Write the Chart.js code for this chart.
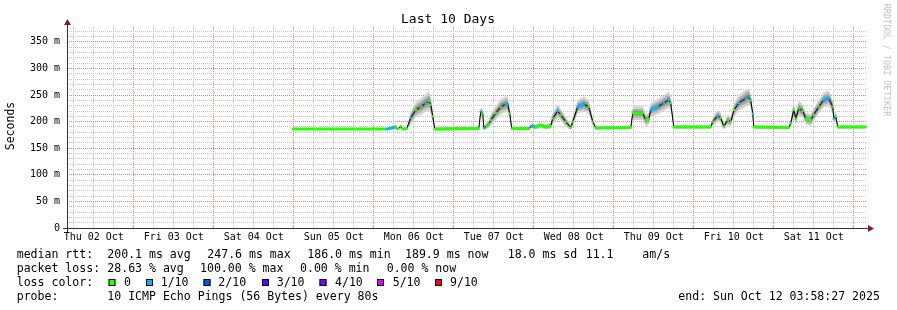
<!DOCTYPE html>
<html>
<head>
<meta charset="utf-8">
<script src="https://cdn.jsdelivr.net/npm/chart.js@4.4.1/dist/chart.umd.min.js"></script>
<style>
body { margin: 0; background: #fff; }
canvas { display: block; }
</style>
</head>
<body>
<canvas id="pingChart" width="897" height="310"></canvas>
<script>
// hours counted from Thu 02 Oct 00:00
const hours = [71.7, 99.9, 102.6, 103.2, 104.1, 104.7, 105.9, 107.1, 108.6, 110.1, 111.6, 112.5, 113.1, 113.7, 114.3,
    127.5, 128.1, 128.7, 129.0, 129.9, 130.5, 131.1, 132.6, 134.1, 135.6, 136.2, 136.8, 137.4,
    142.5, 143.4, 144.6, 146.1, 147.6, 149.1, 149.7, 151.2, 152.1, 153.6, 155.1, 155.7, 157.2, 159.0, 160.5, 161.7, 162.6,
    173.1, 173.7, 176.7, 177.6, 178.5, 179.1, 181.2, 183.0, 184.5, 185.1, 186.0,
    197.1, 197.7, 199.2, 200.1, 201.0, 202.2, 203.1, 204.1, 205.5, 207.6, 208.5, 209.1, 209.7, 210.0,
    220.5, 221.1, 222.0, 222.6, 223.5, 224.7, 225.6, 227.1, 228.0, 229.5, 231.0, 232.5, 233.7, 234.0, 234.6, 235.2, 243.6];
const medianRtt = [186, 186, 190, 186, 191, 186, 187, 207, 222, 228, 235, 239, 232, 210, 186,
    187, 219, 215, 188, 192, 195, 203, 216, 228, 233, 233, 215, 187,
    187, 192, 190, 193, 190, 192, 206, 220, 213, 200, 189, 200, 228, 233, 228, 200, 188,
    189, 216, 216, 203, 205, 222, 228, 235, 241, 235, 190,
    190, 200, 211, 207, 191, 203, 200, 222, 235, 244, 247, 240, 215, 190,
    189, 197, 222, 206, 225, 220, 206, 203, 213, 228, 241, 244, 228, 206, 210, 190, 190];
const lossTenths = [0, 1, 0, 0, 0, 0, 0, 1, 0, 0, 1, 0, 0, 0, 0,
    0, 1, 0, 1, 0, 0, 0, 0, 0, 1, 1, 0, 0,
    0, 1, 0, 0, 0, 0, 0, 1, 0, 0, 0, 0, 1, 1, 0, 0, 0,
    0, 0, 0, 0, 0, 1, 1, 1, 1, 0, 0,
    0, 0, 1, 0, 0, 0, 0, 0, 1, 1, 1, 0, 1, 0,
    0, 0, 0, 0, 0, 0, 0, 0, 0, 0, 1, 1, 0, 1, 0, 0, 0];
const smokeSpread = [1, 1, 3, 1, 3, 1, 2, 8, 9, 10, 10, 12, 10, 8, 2,
    2, 5, 5, 3, 4, 5, 7, 8, 9, 9, 9, 7, 2,
    2, 3, 3, 3, 3, 4, 7, 8, 7, 6, 3, 6, 8, 9, 8, 5, 2,
    2, 8, 8, 7, 7, 8, 9, 9, 10, 8, 2,
    2, 5, 7, 6, 4, 6, 6, 8, 9, 10, 10, 8, 6, 2,
    2, 5, 9, 8, 9, 8, 7, 7, 8, 8, 9, 9, 8, 6, 6, 2, 2];

const dayLabels = ['Thu 02 Oct', 'Fri 03 Oct', 'Sat 04 Oct', 'Sun 05 Oct', 'Mon 06 Oct',
    'Tue 07 Oct', 'Wed 08 Oct', 'Thu 09 Oct', 'Fri 10 Oct', 'Sat 11 Oct'];
const lossLabels = ['0', '1/10', '2/10', '3/10', '4/10', '5/10', '9/10'];
const lossColors = ['#26ff00', '#00b8ff', '#0059ff', '#5e00ff', '#7e00ff', '#dd00ff', '#ff0000'];

const xTicks = [];
for (let h = 6; h <= 240; h += 6) xTicks.push(h);
const yTicks = [];
for (let v = 0; v <= 370; v += 10) yTicks.push(v);

const mono = 'DejaVu Sans Mono';
const majorGrid = '#ef7d7d';
const minorGrid = '#c6c6c6';
const band = (k) => hours.map((h, i) => ({ x: h, y: medianRtt[i] + k * smokeSpread[i] }));
// smoke: pairs of upper/lower lines, upper one filled down to the lower one
const smokeSet = (k, color, idx) => [
    { data: band(k), borderWidth: 0, borderColor: 'rgba(0,0,0,0)', pointRadius: 0, fill: idx + 1, backgroundColor: color },
    { data: band(-k), borderWidth: 0, borderColor: 'rgba(0,0,0,0)', pointRadius: 0, fill: false }
];
const flat = c => Math.abs(c.p1.y - c.p0.y) < 0.5 * Math.abs(c.p1.x - c.p0.x);
const gridColor = (list, every) => c => (list[c.index] % every === 0 ? majorGrid : minorGrid);

const decor = {
    id: 'decor',
    afterDraw(chart) {
        const ctx = chart.ctx;
        const a = chart.chartArea;
        ctx.save();
        // axes + arrows
        ctx.strokeStyle = '#333';
        ctx.lineWidth = 1;
        ctx.beginPath();
        ctx.moveTo(a.left + 0.5, a.bottom + 4);
        ctx.lineTo(a.left + 0.5, a.top - 3);
        ctx.moveTo(a.left - 4, a.bottom + 0.5);
        ctx.lineTo(a.right + 2, a.bottom + 0.5);
        ctx.stroke();
        ctx.fillStyle = '#8b1a1a';
        ctx.beginPath();
        ctx.moveTo(a.left - 3, a.top - 2);
        ctx.lineTo(a.left + 4, a.top - 2);
        ctx.lineTo(a.left + 0.5, a.top - 8);
        ctx.fill();
        ctx.beginPath();
        ctx.moveTo(a.right + 1, a.bottom - 3);
        ctx.lineTo(a.right + 1, a.bottom + 4);
        ctx.lineTo(a.right + 7, a.bottom + 0.5);
        ctx.fill();

        ctx.fillStyle = '#000';
        ctx.textBaseline = 'middle';
        ctx.textAlign = 'center';
        ctx.font = '13px ' + mono;
        ctx.fillText('Last 10 Days', 448, 19.5);

        ctx.save();
        ctx.font = '11.5px ' + mono;
        ctx.translate(11, 126);
        ctx.rotate(-Math.PI / 2);
        ctx.fillText('Seconds', 0, 0);
        ctx.restore();

        ctx.save();
        ctx.fillStyle = '#c4c4c4';
        ctx.font = '8.5px ' + mono;
        ctx.translate(886, 60);
        ctx.rotate(Math.PI / 2);
        ctx.fillText('RRDTOOL / TOBI OETIKER', 0, 0);
        ctx.restore();

        // legend block
        ctx.textAlign = 'left';
        ctx.font = '11.55px ' + mono;
        const row = (y, items) => items.forEach(([x, t]) => ctx.fillText(t, x, y));
        row(254.5, [[16.7, 'median rtt:'], [107.3, '200.1 ms avg'], [207.3, '247.6 ms max'],
            [307.3, '186.0 ms min'], [405, '189.9 ms now'], [507.7, '18.0 ms sd'], [585.7, '11.1'], [642.3, 'am/s']]);
        row(268.5, [[16.7, 'packet loss:'], [107.3, '28.63 % avg'], [200, '100.00 % max'],
            [300, '0.00 % min'], [386.7, '0.00 % now']]);
        row(282.5, [[16.7, 'loss color:']]);
        const boxX = [108.5, 146, 203.5, 262, 319.5, 377, 435];
        const textX = [124, 160.7, 218.3, 276.7, 335, 392.7, 450];
        lossLabels.forEach((t, i) => {
            ctx.fillStyle = lossColors[i];
            ctx.fillRect(boxX[i], 279, 7, 7);
            ctx.strokeStyle = '#000';
            ctx.strokeRect(boxX[i] + 0.5, 279.5, 6, 6);
            ctx.fillStyle = '#000';
            ctx.fillText(t, textX[i], 282.5);
        });
        row(296.5, [[16.7, 'probe:'], [107.3, '10 ICMP Echo Pings (56 Bytes) every 80s'],
            [678.3, 'end: Sun Oct 12 03:58:27 2025']]);
        ctx.restore();
    }
};

new Chart(document.getElementById('pingChart').getContext('2d'), {
    type: 'line',
    data: {
        datasets: [
            {
                // loss-coloured median: flat stretches + a dot at each sample
                data: hours.map((h, i) => ({ x: h, y: medianRtt[i] })),
                borderWidth: 3, tension: 0, fill: false,
                borderCapStyle: 'butt', borderColor: lossColors[0],
                pointStyle: 'rect', pointRadius: 1.6, pointBorderWidth: 0,
                pointBackgroundColor: hours.map((h, i) => lossColors[lossTenths[i]]),
                segment: {
                    borderColor: c => flat(c) ? lossColors[lossTenths[c.p0DataIndex]] : 'rgba(0,0,0,0)'
                }
            },
            {
                data: hours.map((h, i) => ({ x: h, y: medianRtt[i] })),
                borderWidth: 1, borderColor: '#000', pointRadius: 0, fill: false
            },
            ...smokeSet(0.5, '#8a8a8a', 2),
            ...smokeSet(1, '#adadad', 4),
            ...smokeSet(1.6, '#d2d2d2', 6)
        ]
    },
    options: {
        responsive: false,
        animation: false,
        events: [],
        layout: { padding: { left: 0, top: 27, right: 30, bottom: 62 } },
        plugins: {
            legend: { display: false },
            tooltip: { enabled: false },
            filler: { propagate: false }
        },
        scales: {
            x: {
                type: 'linear',
                min: 3.975,
                max: 243.975,
                afterBuildTicks: s => { s.ticks = xTicks.map(v => ({ value: v })); },
                afterFit: s => { s.height = 20; },
                ticks: {
                    autoSkip: false, maxRotation: 0, padding: 3, color: '#000',
                    font: { family: mono, size: 10 },
                    callback: v => (v % 24 === 12 ? dayLabels[(v - 12) / 24] : '')
                },
                grid: { drawTicks: false, color: gridColor(xTicks, 24) },
                border: { display: false, dash: [1, 1] }
            },
            y: {
                min: 0,
                max: 378,
                afterBuildTicks: s => { s.ticks = yTicks.map(v => ({ value: v })); },
                afterFit: s => { s.width = 67; },
                ticks: {
                    autoSkip: false, padding: 7, color: '#000',
                    font: { family: mono, size: 10 },
                    callback: v => (v % 50 === 0 ? (v === 0 ? '0' : v + ' m') : '')
                },
                grid: { drawTicks: false, color: gridColor(yTicks, 50) },
                border: { display: false, dash: [1, 1] }
            }
        }
    },
    plugins: [decor]
});
</script>
</body>
</html>
